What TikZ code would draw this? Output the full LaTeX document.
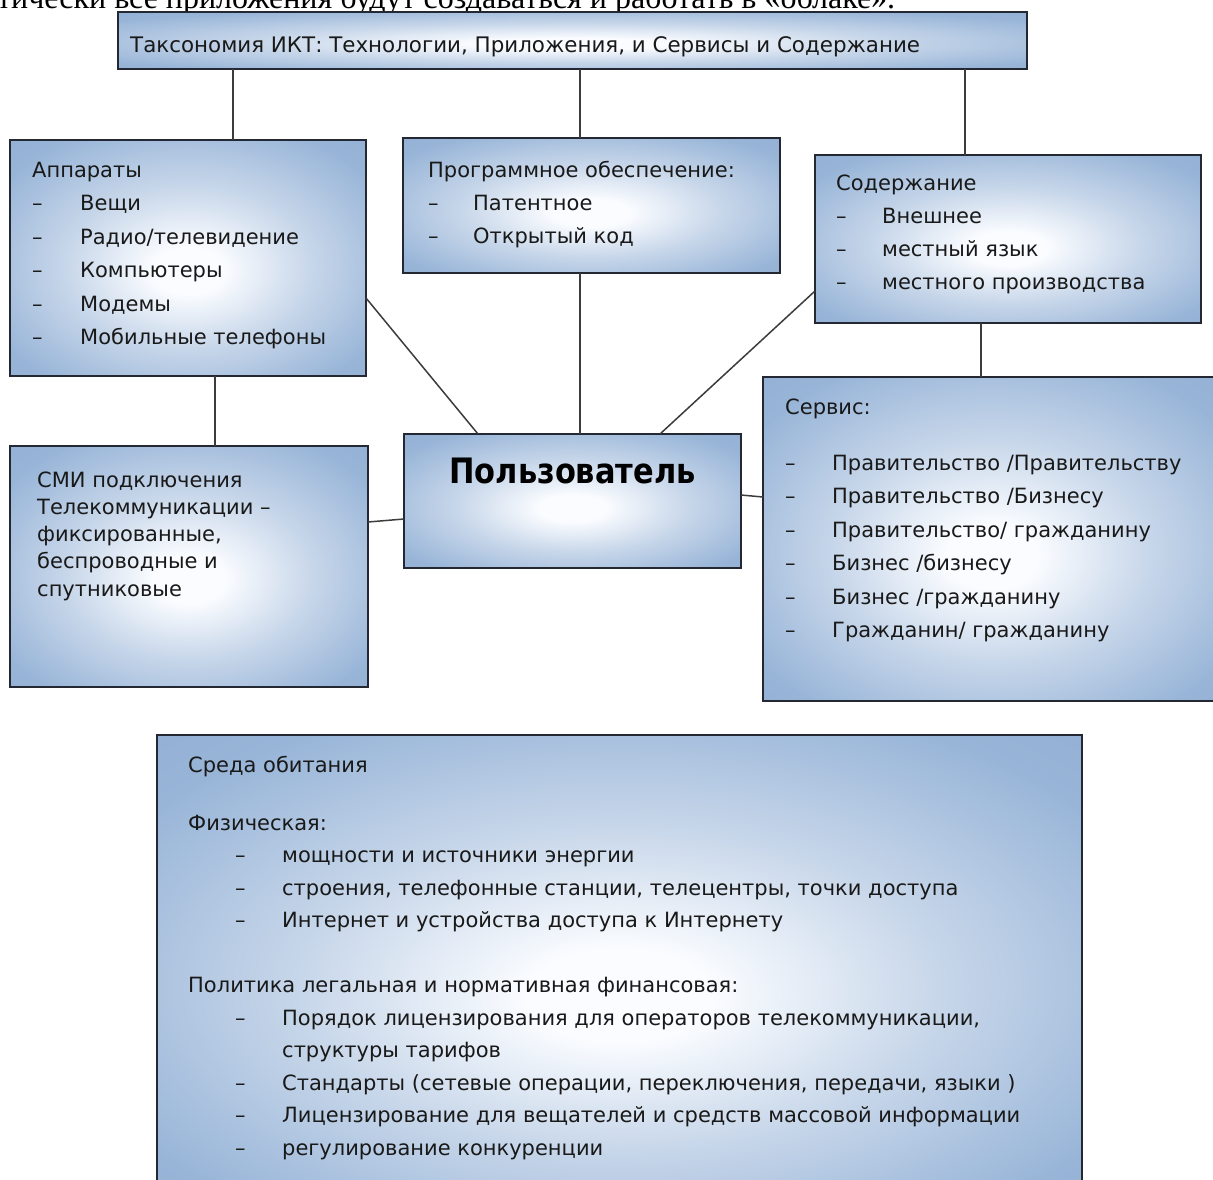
\documentclass[tikz,border=0pt]{standalone}
\usepackage{fontspec}
\setmainfont{DejaVu Sans}
\newfontfamily\serfont{Liberation Serif}
\newfontfamily\boldfont[FakeStretch=0.87]{DejaVu Sans}
\definecolor{bbl}{RGB}{152,181,216}
\definecolor{bbld}{RGB}{138,168,206}
\definecolor{bwhite}{RGB}{250,252,255}
\definecolor{bmid}{RGB}{200,215,234}
\definecolor{bord}{RGB}{35,40,50}
\definecolor{lin}{RGB}{60,60,60}
\pgfdeclareradialshading{boxshade}{\pgfpoint{0bp}{-3bp}}{color(0bp)=(bwhite);color(5bp)=(bwhite);color(17bp)=(bmid);color(31bp)=(bbl);color(50bp)=(bbld)}
\newcommand\dashitem[2]{\hbox{\makebox[#1][l]{–}#2}}
\tikzset{
 box/.style={draw=bord, line width=1.8pt, shade, shading=boxshade, anchor=north west, inner sep=0pt, outer sep=0pt},
 txt/.style={anchor=base west, inner sep=0pt, font=\fontsize{21}{33.5}\selectfont, text=black!90},
 link/.style={draw=lin, line width=1.5pt},
}
\begin{document}
\begin{tikzpicture}[x=1pt,y=-1pt]
\useasboundingbox (0,0) rectangle (1213,1179);
\fill[white] (0,0) rectangle (1213,1179);
\clip (0,0) rectangle (1213,1179);

\node[anchor=base west, inner sep=0pt, font=\serfont\fontsize{32}{36}\selectfont] (ttop) at (-3,8.5) {тически все приложения будут создаваться и работать в «облаке».};

% boxes
\node[box, minimum width=909pt, minimum height=57pt] (tax) at (118,12) {};
\node[box, minimum width=356pt, minimum height=236pt] (app) at (10,140) {};
\node[box, minimum width=377pt, minimum height=135pt] (soft) at (403,138) {};
\node[box, minimum width=386pt, minimum height=168pt] (cont) at (815,155) {};
\node[box, minimum width=358pt, minimum height=241pt] (smi) at (10,446) {};
\node[box, minimum width=337pt, minimum height=134pt] (user) at (404,434) {};
\node[box, minimum width=458pt, minimum height=324pt] (serv) at (763,377) {};
\node[box, minimum width=925pt, minimum height=470pt] (env) at (157,735) {};

% connectors
\draw[link] (233,0 |- tax.south) -- (233,0 |- app.north);
\draw[link] (580,0 |- tax.south) -- (580,0 |- soft.north);
\draw[link] (965,0 |- tax.south) -- (965,0 |- cont.north);
\draw[link] (app.east |- 0,298) -- (478,0 |- user.north);
\draw[link] (580,0 |- soft.south) -- (580,0 |- user.north);
\draw[link] (cont.west |- 0,291) -- (660,0 |- user.north);
\draw[link] (981,0 |- cont.south) -- (981,0 |- serv.north);
\draw[link] (215,0 |- app.south) -- (215,0 |- smi.north);
\draw[link] (smi.east |- 0,522) -- (user.west |- 0,519);
\draw[link] (user.east |- 0,495) -- (serv.west |- 0,497);

% texts
\node[txt, font=\fontsize{21.4}{30}\selectfont] (taxt) at (130,52) {Таксономия ИКТ: Технологии, Приложения, и Сервисы и Содержание};

\node[txt] (appt) at (32,177) {\vtop{\hbox{Аппараты}
 \dashitem{48pt}{Вещи}
 \dashitem{48pt}{Радио/телевидение}
 \dashitem{48pt}{Компьютеры}
 \dashitem{48pt}{Модемы}
 \dashitem{48pt}{Мобильные телефоны}}};

\node[txt, font=\fontsize{21}{33}\selectfont] (softt) at (428,177) {\vtop{\hbox{Программное обеспечение:}
 \dashitem{45pt}{Патентное}
 \dashitem{45pt}{Открытый код}}};

\node[txt, font=\fontsize{21}{33.3}\selectfont] (contt) at (836,190) {\vtop{\hbox{Содержание}
 \dashitem{46pt}{Внешнее}
 \dashitem{46pt}{местный язык}
 \dashitem{46pt}{местного производства}}};

\node[txt, font=\fontsize{21}{27.3}\selectfont] (smit) at (37,487) {\vtop{\hbox{СМИ подключения}
 \hbox{Телекоммуникации –}
 \hbox{фиксированные,}
 \hbox{беспроводные и}
 \hbox{спутниковые}}};

\node[anchor=base, inner sep=0pt, font=\boldfont\bfseries\fontsize{35}{40}\selectfont] (usert) at (572.5,483) {Пользователь};

\node[txt] (servt) at (785,414) {\vtop{\hbox{Сервис:}\vskip 22.5pt
 \dashitem{47pt}{Правительство /Правительству}
 \dashitem{47pt}{Правительство /Бизнесу}
 \dashitem{47pt}{Правительство/ гражданину}
 \dashitem{47pt}{Бизнес /бизнесу}
 \dashitem{47pt}{Бизнес /гражданину}
 \dashitem{47pt}{Гражданин/ гражданину}}};

\node[txt, font=\fontsize{21}{32.5}\selectfont] (envt) at (188,772) {\vtop{\hbox{Среда обитания}\vskip 25.5pt
 \hbox{Физическая:}
 \hbox{\hskip47pt\makebox[47pt][l]{–}мощности и источники энергии}
 \hbox{\hskip47pt\makebox[47pt][l]{–}строения, телефонные станции, телецентры, точки доступа}
 \hbox{\hskip47pt\makebox[47pt][l]{–}Интернет и устройства доступа к Интернету}\vskip 32.5pt
 \hbox{Политика  легальная  и нормативная финансовая:}
 \hbox{\hskip47pt\makebox[47pt][l]{–}Порядок лицензирования для операторов телекоммуникации,}
 \hbox{\hskip94pt структуры тарифов}
 \hbox{\hskip47pt\makebox[47pt][l]{–}Стандарты (сетевые операции, переключения, передачи, языки )}
 \hbox{\hskip47pt\makebox[47pt][l]{–}Лицензирование для вещателей и средств массовой информации}
 \hbox{\hskip47pt\makebox[47pt][l]{–}регулирование конкуренции}}};
\end{tikzpicture}
\end{document}
